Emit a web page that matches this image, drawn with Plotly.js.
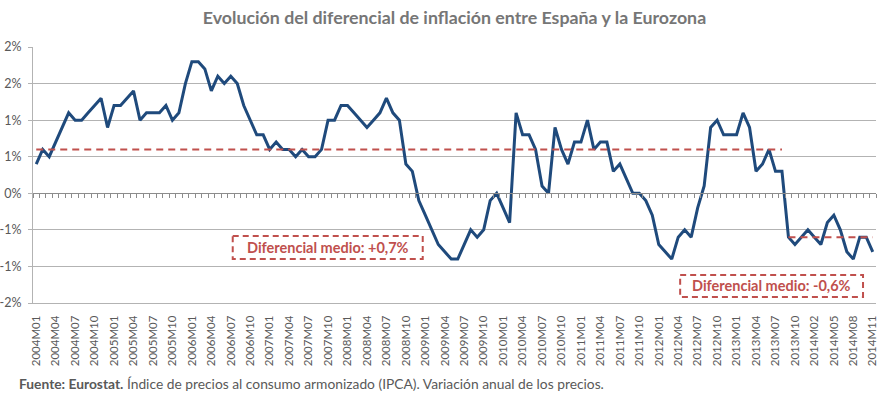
<!DOCTYPE html>
<html>
<head>
<meta charset="utf-8">
<script src="https://cdn.plot.ly/plotly-3.0.1.min.js"></script>
<style>
html,body{margin:0;padding:0;background:#fff;}
#chart{width:889px;height:394px;}
</style>
</head>
<body>
<div id="chart"></div>
<script>
// ---- Data ----
const categories = [
  '2004M01','2004M02','2004M03','2004M04','2004M05','2004M06','2004M07','2004M08','2004M09','2004M10','2004M11','2004M12',
  '2005M01','2005M02','2005M03','2005M04','2005M05','2005M06','2005M07','2005M08','2005M09','2005M10','2005M11','2005M12',
  '2006M01','2006M02','2006M03','2006M04','2006M05','2006M06','2006M07','2006M08','2006M09','2006M10','2006M11','2006M12',
  '2007M01','2007M02','2007M03','2007M04','2007M05','2007M06','2007M07','2007M08','2007M09','2007M10','2007M11','2007M12',
  '2008M01','2008M02','2008M03','2008M04','2008M05','2008M06','2008M07','2008M08','2008M09','2008M10','2008M11','2008M12',
  '2009M01','2009M02','2009M03','2009M04','2009M05','2009M06','2009M07','2009M08','2009M09','2009M10','2009M11','2009M12',
  '2010M01','2010M02','2010M03','2010M04','2010M05','2010M06','2010M07','2010M08','2010M09','2010M10','2010M11','2010M12',
  '2011M01','2011M02','2011M03','2011M04','2011M05','2011M06','2011M07','2011M08','2011M09','2011M10','2011M11','2011M12',
  '2012M01','2012M02','2012M03','2012M04','2012M05','2012M06','2012M07','2012M08','2012M09','2012M10','2012M11','2012M12',
  '2013M01','2013M02','2013M03','2013M04','2013M05','2013M06','2013M07','2013M08','2013M09','2013M10','2013M11','2013M12',
  '2014M02','2014M03','2014M04','2014M05','2014M06','2014M07','2014M08','2014M09','2014M10','2014M11'
];

const differential = [
  0.4,0.6,0.5,0.7,0.9,1.1,1.0,1.0,1.1,1.2,1.3,0.9,
  1.2,1.2,1.3,1.4,1.0,1.1,1.1,1.1,1.2,1.0,1.1,1.5,
  1.8,1.8,1.7,1.4,1.6,1.5,1.6,1.5,1.2,1.0,0.8,0.8,
  0.6,0.7,0.6,0.6,0.5,0.6,0.5,0.5,0.6,1.0,1.0,1.2,
  1.2,1.1,1.0,0.9,1.0,1.1,1.3,1.1,1.0,0.4,0.3,-0.1,
  -0.3,-0.5,-0.7,-0.8,-0.9,-0.9,-0.7,-0.5,-0.6,-0.5,-0.1,0.0,
  -0.2,-0.4,1.1,0.8,0.8,0.6,0.1,0.0,0.9,0.6,0.4,0.7,
  0.7,1.0,0.6,0.7,0.7,0.3,0.4,0.2,0.0,0.0,-0.1,-0.3,
  -0.7,-0.8,-0.9,-0.6,-0.5,-0.6,-0.2,0.1,0.9,1.0,0.8,0.8,
  0.8,1.1,0.9,0.3,0.4,0.6,0.3,0.3,-0.6,-0.7,-0.6,-0.5,
  -0.6,-0.7,-0.4,-0.3,-0.5,-0.8,-0.9,-0.6,-0.6,-0.8
];

// mean-differential periods
const meanStart = ['2004M01','2013M09'];
const meanEnd   = ['2013M08','2014M11'];
const meanValue = [0.6, -0.6];
const meanLabels = ['Diferencial medio: +0,7%','Diferencial medio: -0,6%'];

// axis ticks
const yTickValues = [-1.5,-1,-0.5,0,0.5,1,1.5,2];
const yTickLabels = ['-2%','-1%','-1%','0%','1%','1%','2%','2%'];
const xTickLabels = categories.filter((c,i)=> i % 3 === 0);

const titleText = 'Evolución del diferencial de inflación entre España y la Eurozona';
const sourceText = '<b>Fuente: Eurostat.</b> Índice de precios al consumo armonizado (IPCA). Variación anual de los precios.';

// ---- Styling ----
const FONT = 'Lato, "Open Sans", sans-serif';
const BLUE = '#1F4A7C';
const RED = '#C0504D';
const GRID = '#B3B3B3';
const TXT = '#595959';
const yMin = -1.5, yMax = 2;

const traces = [];
traces.push({
  x: categories, y: differential, type:'scatter', mode:'lines',
  line:{color:BLUE, width:3, shape:'linear'}, hoverinfo:'skip', showlegend:false,
  xaxis:'x', yaxis:'y'
});
for (let k=0;k<meanValue.length;k++){
  traces.push({
    x:[meanStart[k], meanEnd[k]], y:[meanValue[k], meanValue[k]],
    type:'scatter', mode:'lines',
    line:{color:RED, width:2, dash:'7px,5px'}, hoverinfo:'skip', showlegend:false,
    xaxis:'x', yaxis:'y'
  });
}
// helper (invisible) trace to carry the zero-line category tick axis
traces.push({
  x: categories.map((c,i)=>i), y: differential, type:'scatter', mode:'lines',
  line:{width:0}, opacity:0, hoverinfo:'skip', showlegend:false,
  xaxis:'x2', yaxis:'y'
});

const n = categories.length;
// label boxes (in category-index / value coordinates)
const boxes = [
  {x0:30.3, x1:59.6, y0:-0.585, y1:-0.9},
  {x0:99.3, x1:127.5, y0:-1.117, y1:-1.418}
];
const shapes = boxes.map(b=>({
  type:'rect', xref:'x', yref:'y', x0:b.x0, x1:b.x1, y0:b.y0, y1:b.y1,
  line:{color:RED, width:2, dash:'6px,4px'}, fillcolor:'rgba(0,0,0,0)', layer:'above'
}));
const annotations = boxes.map((b,k)=>({
  xref:'x', yref:'y', x:(b.x0+b.x1)/2, y:(b.y0+b.y1)/2,
  text:'<b>'+meanLabels[k]+'</b>', showarrow:false,
  font:{family:FONT, size:14.5, color:RED}, xanchor:'center', yanchor:'middle'
}));
annotations.push({
  xref:'paper', yref:'paper', x:-0.019, y:-0.314, xanchor:'left', yanchor:'middle',
  text:sourceText, showarrow:false, font:{family:FONT, size:13.8, color:TXT}
});

const layout = {
  width:889, height:394,
  margin:{l:33, r:13, t:47, b:91, pad:0},
  paper_bgcolor:'#ffffff', plot_bgcolor:'#ffffff',
  font:{family:FONT, color:TXT},
  title:{text:'<b>'+titleText+'</b>', x:0.5, xanchor:'center', xref:'paper',
         y:0.955, yanchor:'middle', yref:'container',
         font:{family:FONT, size:17.8, color:'#767676'}},
  showlegend:false,
  xaxis:{
    type:'category', categoryorder:'array', categoryarray:categories,
    range:[-0.5, n-0.5], fixedrange:true,
    tickmode:'array', tickvals:xTickLabels, ticktext:xTickLabels,
    tickangle:-90, tickfont:{family:FONT, size:11.5, color:TXT},
    ticks:'', showgrid:false, zeroline:false, ticklabelstandoff:7,
    showline:true, linecolor:GRID, linewidth:1
  },
  xaxis2:{
    type:'linear', overlaying:'x', anchor:'free', position:(0-yMin)/(yMax-yMin),
    range:[-0.5, n-0.5], fixedrange:true,
    tickmode:'linear', tick0:-0.5, dtick:1,
    ticks:'outside', ticklen:4, tickwidth:1, tickcolor:'#8C8C8C',
    showticklabels:false, showgrid:false, zeroline:false,
    showline:true, linecolor:'#8C8C8C', linewidth:1
  },
  yaxis:{
    range:[yMin, yMax], fixedrange:true,
    tickmode:'array', tickvals:yTickValues, ticktext:yTickLabels,
    tickfont:{family:FONT, size:12.5, color:TXT},
    ticks:'outside', ticklen:4, tickcolor:GRID, tickwidth:1,
    showgrid:true, gridcolor:GRID, gridwidth:1,
    showline:true, linecolor:GRID, linewidth:1,
    zeroline:false, ticklabelstandoff:4
  },
  shapes:shapes,
  annotations:annotations
};

Plotly.newPlot('chart', traces, layout, {displayModeBar:false, staticPlot:true});
</script>
</body>
</html>
